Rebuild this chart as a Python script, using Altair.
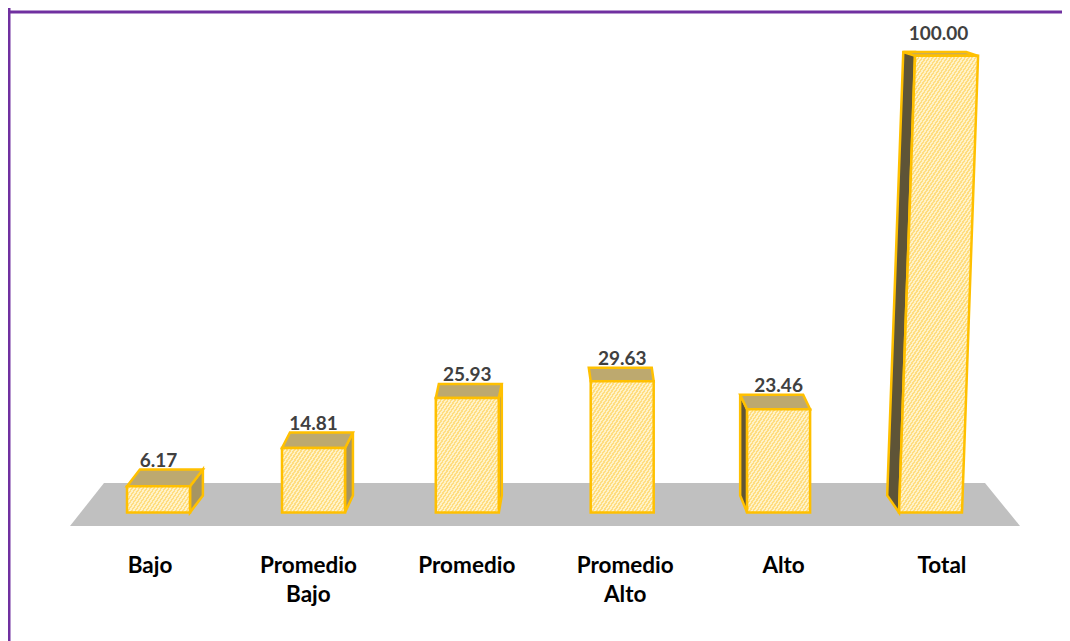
import altair as alt
import pandas as pd

# ---- chart values -------------------------------------------------------
categories = ["Bajo", "Promedio\nBajo", "Promedio", "Promedio\nAlto", "Alto", "Total"]
values = [6.17, 14.81, 25.93, 29.63, 23.46, 100.00]
value_labels = ["6.17", "14.81", "25.93", "29.63", "23.46", "100.00"]

# ---- projection of the 3-D look (screen space of the 1070x641 page) ------
BASE = 512.5
PITCH = 154.4
LEFT = 127.0
NUDGE = [0, 0.6, 0, 0.5, 2.5, 0]
BAR_W = 63.0
LABEL_LEFT = 150.0
LABEL_PITCH = 158.4
VANISH_X = 530.0

PURPLE = "#7030A0"
GOLD = "#FFC000"
FLOOR = "#C0C0C0"
TOP_FILL = "#BDA96F"
SIDE_LIGHT = "#A69562"
SIDE_DARK = "#5E5437"
LABEL_GREY = "#404040"
BODY_FONT = "Lato"


def height_of(v):
    return 4.07 * v ** 1.025


sx = alt.Scale(domain=[8, 1062], nice=False, zero=False, padding=0)
sy = alt.Scale(domain=[BASE - 641, BASE - 8], nice=False, zero=False, padding=0)


def enc(x2=False, y2=False):
    e = dict(
        x=alt.X("x:Q", scale=sx, axis=None),
        y=alt.Y("y:Q", scale=sy, axis=None),
    )
    if x2:
        e["x2"] = alt.X2("x2:Q")
    if y2:
        e["y2"] = alt.Y2("y2:Q")
    return e


def hatch(w, h, pitch=3.6, slope=1.5):
    """Diagonal stripes as a many-stop linear gradient."""
    k = (slope * w + h) / (slope ** 2 * w ** 2 + h ** 2)
    dx, dy = slope * w * k, h * k
    n = max(2, round((w + h / slope) / pitch))
    stops = []
    for i in range(n):
        a, b, c = i / n, (i + 0.5) / n, (i + 1) / n
        stops += [
            {"offset": a, "color": "#FFF2C6"},
            {"offset": b, "color": "#FFF2C6"},
            {"offset": b, "color": "#FFDD80"},
            {"offset": c, "color": "#FFDD80"},
        ]
    return {"gradient": "linear", "x1": 0, "y1": 0, "x2": dx, "y2": dy, "stops": stops}


layers = []

# floor
floor = pd.DataFrame({"y": [-13.5, 29.5], "x": [70, 104], "x2": [1020, 985]})
layers.append(alt.Chart(floor).mark_area(orient="horizontal", fill=FLOOR).encode(**enc(x2=True)))

fronts, tops, sides, texts, cats = [], [], [], [], []
for i, (cat, v, lab) in enumerate(zip(categories, values, value_labels)):
    h = height_of(v)
    xl = LEFT + PITCH * i + NUDGE[i]
    lean = 0.05 * max(0.0, h - 135)
    ddx = (VANISH_X - xl) * 0.032
    ddy = 17.5 - 0.03 * h
    ftl, ftr = xl + lean, xl + lean + BAR_W
    btl, btr = ftl + ddx, ftr + ddx

    # side wall
    if abs(ddx) > 3:
        xf = ftr if ddx > 0 else ftl
        xf_b = xl + BAR_W if ddx > 0 else xl
        xb_b = xf_b + ddx
        xb_t = xf + ddx
        if lean == 0:
            s = pd.DataFrame({"x": [xf, xb_t], "y": [h, h + ddy], "y2": [0.0, 17.0]})
            sides.append(
                alt.Chart(s).mark_area(
                    orient="vertical", fill=SIDE_LIGHT if ddx > 0 else SIDE_DARK,
                    stroke=GOLD, strokeWidth=2.5).encode(**enc(y2=True))
            )
        else:
            s = pd.DataFrame({
                "y": [0.0, 17.0, h + ddy],
                "x": [xf_b, xb_b, xb_t],
                "x2": [xf_b, xf_b + (xf - xf_b) * 17 / h, xf],
            })
            sides.append(
                alt.Chart(s).mark_area(
                    orient="horizontal", fill=SIDE_DARK,
                    stroke=GOLD, strokeWidth=2.5).encode(**enc(x2=True))
            )

    # top face
    t = pd.DataFrame({"y": [h, h + ddy], "x": [ftl, btl], "x2": [ftr, btr]})
    tops.append(
        alt.Chart(t).mark_area(orient="horizontal", fill=TOP_FILL, stroke=GOLD, strokeWidth=2.5).encode(**enc(x2=True))
    )

    # front face
    f = pd.DataFrame({"y": [0.0, h], "x": [xl, ftl], "x2": [xl + BAR_W, ftr], "value": [v, v]})
    fronts.append(
        alt.Chart(f).mark_area(
            orient="horizontal", fill=hatch(BAR_W + lean, h), stroke=GOLD, strokeWidth=2.5
        ).encode(**enc(x2=True))
    )

    texts.append({"x": xl + BAR_W / 2 + lean * 0.5, "y": h + ddy + 8.5 + 0.62 * lean, "t": lab})
    cats.append({"x": LABEL_LEFT + LABEL_PITCH * i, "y": BASE - 555, "t": cat})

layers += sides + tops + fronts

layers.append(
    alt.Chart(pd.DataFrame(texts)).mark_text(
        font=BODY_FONT, fontWeight="bold", fontSize=19, color=LABEL_GREY, align="center", baseline="middle"
    ).encode(text="t:N", **enc())
)
layers.append(
    alt.Chart(pd.DataFrame(cats)).mark_text(
        font=BODY_FONT, fontWeight="bold", fontSize=22.5, color="#000000", align="center", baseline="top",
        lineBreak="\n", lineHeight=29
    ).encode(text="t:N", **enc())
)

# frame: only the top and the left edge fall inside the picture
top_edge = pd.DataFrame({"x": [8.0], "x2": [1062.0], "y": [BASE - 12]})
left_edge = pd.DataFrame({"x": [9.0], "y": [BASE - 8], "y2": [BASE - 641]})
layers.append(alt.Chart(top_edge).mark_rule(color=PURPLE, strokeWidth=3).encode(**enc(x2=True)))
layers.append(alt.Chart(left_edge).mark_rule(color=PURPLE, strokeWidth=3).encode(**enc(y2=True)))

chart = (
    alt.layer(*layers)
    .properties(
        width=1054, height=633, padding=0, background="#FFFFFF",
        autosize=alt.AutoSizeParams(type="none"),
    )
    .configure_view(stroke=None)
)
chart.save("out.html", embed_options={"renderer": "svg", "actions": False})
